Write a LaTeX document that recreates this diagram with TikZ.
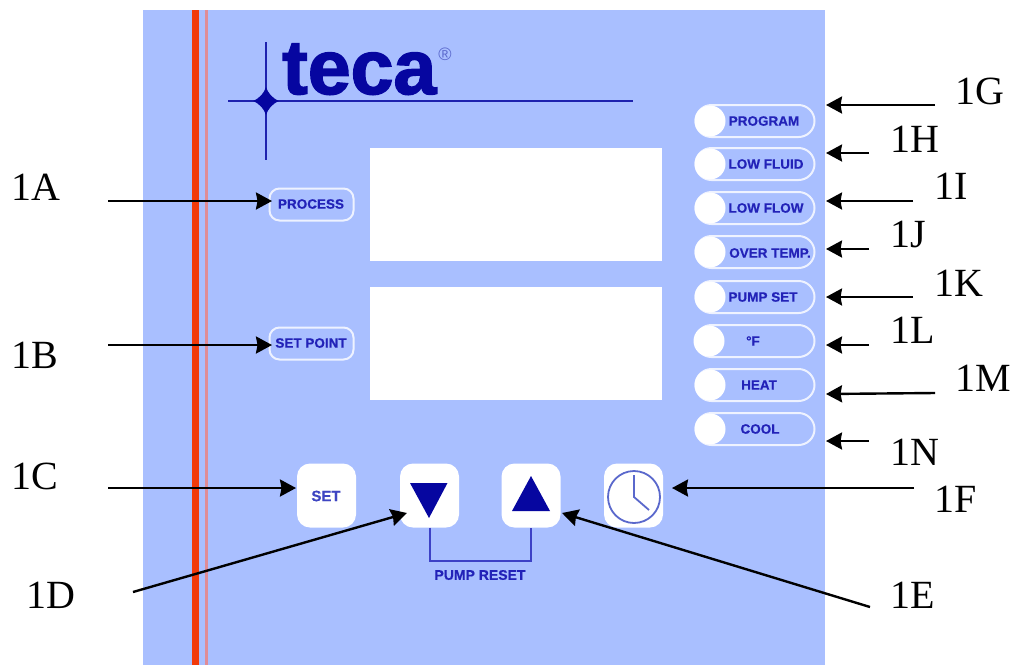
\documentclass[tikz,border=0pt]{standalone}
\usepackage{fontspec}
\setmainfont{Liberation Serif}
\newfontfamily\panelfont[BoldFeatures={FakeBold=0.5}]{Liberation Sans}
\newfontfamily\logofont[BoldFeatures={FakeBold=2}]{Liberation Sans}
\usetikzlibrary{arrows.meta,shapes.misc}
\definecolor{panelblue}{HTML}{A9BFFF}
\definecolor{navy}{HTML}{0606A0}
\definecolor{legend}{HTML}{2222B8}
\definecolor{stripe}{HTML}{F23A0A}
\definecolor{thinstripe}{HTML}{E08C96}
\definecolor{dial}{HTML}{5A68CC}
\tikzset{
  callout/.style={anchor=west,inner sep=0pt,font=\fontsize{40}{40}\selectfont},
  screen/.style={fill=white,minimum width=292pt,minimum height=113pt,inner sep=0pt},
  softkey/.style={draw=white!80!panelblue,line width=2pt,rounded corners=10pt,minimum width=84pt,minimum height=32pt,inner sep=0pt},
  pill/.style={draw=white!80!panelblue,line width=2pt,rounded rectangle,minimum width=119pt,minimum height=32pt,inner sep=0pt},
  lamp/.style={circle,fill=white,minimum size=31pt,inner sep=0pt},
  keycap/.style={fill=white,rounded corners=13pt,minimum width=59pt,minimum height=64pt,inner sep=0pt},
  legendtext/.style={text=legend,inner sep=0pt,font=\panelfont\bfseries\fontsize{13.5}{13.5}\selectfont},
  every edge/.style={draw=black,->,line width=2.4pt},
}
\begin{document}
\begin{tikzpicture}[x=1pt,y=-1pt,>={Stealth[length=16pt,width=17pt,inset=1.5pt]}]
  \useasboundingbox (0,0) rectangle (1016,665);

  % panel and stripes
  \fill[panelblue] (143,10) rectangle (825,665);
  \fill[stripe] (192,10) rectangle (199,665);
  \fill[thinstripe] (205,10) rectangle (207.5,665);

  % logo
  \draw[navy!85!panelblue,line width=2pt] (228,101) -- (633,101);
  \draw[navy!85!panelblue,line width=2pt] (266,42) -- (266,160);
  \fill[navy] (266,87) .. controls (268,93) and (272,98) .. (279,101)
    .. controls (272,104) and (268,109) .. (266,115)
    .. controls (264,109) and (260,104) .. (253,101)
    .. controls (260,98) and (264,93) .. (266,87) -- cycle;
  \node[text=navy,anchor=base west,inner sep=0pt,font=\logofont\bfseries\fontsize{77}{77}\selectfont] (logo) at (282,94) {teca};
  \node[text=dial,inner sep=0pt,font=\panelfont\fontsize{18}{18}\selectfont] (regmark) at (445,54) {®};

  % displays
  \node[screen] (upper) at (516,204.5) {};
  \node[screen] (lower) at (516,343.5) {};

  % left keys
  \node[softkey] (process) at (311.5,204.5) {};
  \node[legendtext] at (311,204) {PROCESS};
  \node[softkey] (setpoint) at (311.5,343.5) {};
  \node[legendtext] at (311,343) {SET POINT};

  % indicators
  \node[pill] (program)  at (755,121) {};
  \node[pill] (lowfluid) at (755,164) {};
  \node[pill] (lowflow)  at (755,208) {};
  \node[pill] (overtemp) at (755,252) {};
  \node[pill] (pumpset)  at (755,297) {};
  \node[pill] (degf)     at (755,341) {};
  \node[pill] (heat)     at (755,385) {};
  \node[pill] (cool)     at (755,429) {};

  \node[lamp] at (710,121) {};
  \node[lamp] at (710,164) {};
  \node[lamp] at (710,208) {};
  \node[lamp] at (710,252) {};
  \node[lamp] at (710,297) {};
  \node[lamp] at (709,341) {};
  \node[lamp] at (710,385) {};
  \node[lamp] at (710,429) {};

  \node[legendtext] at (764,121) {PROGRAM};
  \node[legendtext] at (766,164) {LOW FLUID};
  \node[legendtext] at (766,208) {LOW FLOW};
  \node[legendtext] at (770,253) {OVER TEMP.};
  \node[legendtext] at (763,297) {PUMP SET};
  \node[legendtext] at (753,341) {°F};
  \node[legendtext] at (759,385) {HEAT};
  \node[legendtext] at (760,429) {COOL};

  % bottom keys
  \node[keycap] (setkey) at (326.5,495.5) {};
  \node[keycap] (down)   at (429.5,495.5) {};
  \node[keycap] (up)     at (531,495.5) {};
  \node[keycap] (clock)  at (633.5,495.5) {};

  \node[text=dial!50!legend,inner sep=0pt,font=\panelfont\bfseries\fontsize{15}{15}\selectfont] at (326,496) {SET};
  \fill[navy] (410,483) -- (447.5,483) -- (429,518) -- cycle;
  \fill[navy] (512,511) -- (550,511) -- (531,476) -- cycle;
  \draw[dial,line width=1.8pt] (634,497) circle (26);
  \draw[dial,line width=1.8pt] (634,475) -- (634,497) -- (649,510);

  \draw[legend!80!panelblue,line width=2pt] (down.south) -- ++(0,33) -| (up.south);
  \node[legendtext,font=\panelfont\bfseries\fontsize{14}{14}\selectfont] (pumpreset) at (480,575) {PUMP RESET};

  % callouts
  \node[callout] (A) at (11,187) {1A};
  \node[callout] (B) at (11,355) {1B};
  \node[callout] (C) at (11,476) {1C};
  \node[callout] (D) at (26,595) {1D};
  \node[callout] (E) at (890,595) {1E};
  \node[callout] (F) at (934,499) {1F};
  \node[callout] (G) at (955,91) {1G};
  \node[callout] (H) at (890,139) {1H};
  \node[callout] (I) at (934,186) {1I};
  \node[callout] (J) at (890,234) {1J};
  \node[callout] (K) at (934,283) {1K};
  \node[callout] (L) at (890,330) {1L};
  \node[callout] (M) at (955,378) {1M};
  \node[callout] (N) at (890,452) {1N};

  % tails and tips of the arrows
  \coordinate (tailA) at (108,201);  \coordinate (tipA) at (272,201);
  \coordinate (tailB) at (108,345);  \coordinate (tipB) at (272,345);
  \coordinate (tailC) at (108,488);  \coordinate (tipC) at (296,488);
  \coordinate (tailD) at (133,592);  \coordinate (tipD) at (407,513);
  \coordinate (tailE) at (870,607);  \coordinate (tipE) at (562,513);
  \coordinate (tailF) at (914,488);  \coordinate (tipF) at (672,488);
  \coordinate (tailG) at (935,105);  \coordinate (tipG) at (826,105);
  \coordinate (tailH) at (869,153);  \coordinate (tipH) at (826,153);
  \coordinate (tailI) at (913,201);  \coordinate (tipI) at (826,201);
  \coordinate (tailJ) at (869,249);  \coordinate (tipJ) at (826,249);
  \coordinate (tailK) at (913,297);  \coordinate (tipK) at (826,297);
  \coordinate (tailL) at (869,345);  \coordinate (tipL) at (826,345);
  \coordinate (tailM) at (935,393);  \coordinate (tipM) at (826,394);
  \coordinate (tailN) at (869,441);  \coordinate (tipN) at (826,441);

  \path (tailA) edge (tipA)
        (tailB) edge (tipB)
        (tailC) edge (tipC)
        (tailD) edge (tipD)
        (tailE) edge (tipE)
        (tailF) edge (tipF)
        (tailG) edge (tipG)
        (tailH) edge (tipH)
        (tailI) edge (tipI)
        (tailJ) edge (tipJ)
        (tailK) edge (tipK)
        (tailL) edge (tipL)
        (tailM) edge (tipM)
        (tailN) edge (tipN);
\end{tikzpicture}
\end{document}
